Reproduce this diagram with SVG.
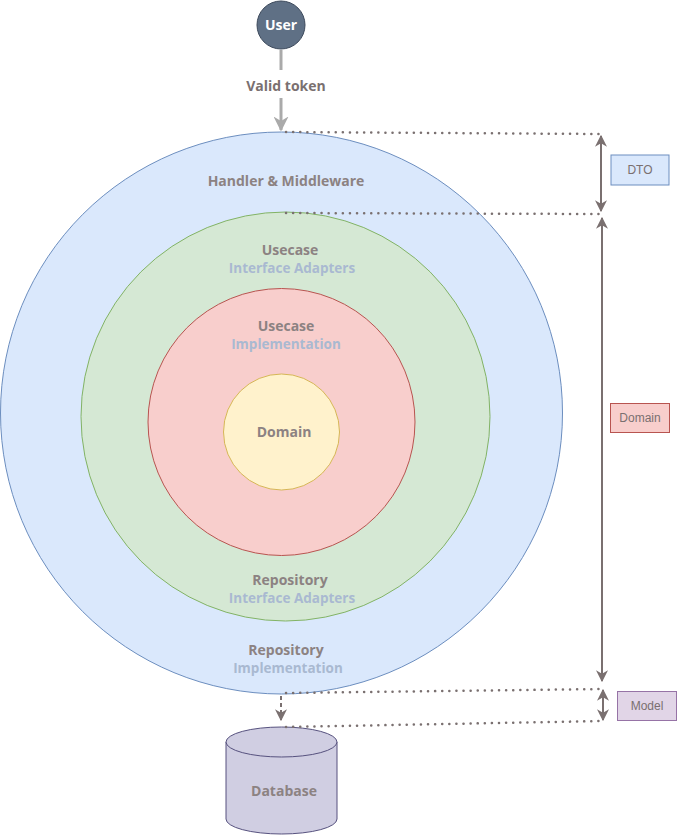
<svg xmlns="http://www.w3.org/2000/svg" width="679" height="836" viewBox="0 0 679 836">
<style>
.t{font-family:"Open Sans",sans-serif;font-weight:bold;font-size:14px;fill:#8c8282;text-anchor:middle}
.s{font-family:"Open Sans",sans-serif;font-weight:bold;font-size:13.5px;fill:#a9b9d1;text-anchor:middle}
.b{font-family:"Liberation Sans",Arial,sans-serif;font-size:12px;fill:#7a7070;text-anchor:middle}
.dot{stroke:#7a7070;stroke-width:2.5;stroke-dasharray:0.1 7;stroke-linecap:round;fill:none}
.arr{stroke:#7a7070;stroke-width:2;fill:none}
</style>
<defs>
<marker id="ah" viewBox="0 0 10 10" refX="9" refY="5" markerWidth="6" markerHeight="6" orient="auto-start-reverse" markerUnits="strokeWidth">
<path d="M0,0 L10,5 L0,10 L3,5 Z" fill="#7a7070"/>
</marker>
<marker id="ahg" viewBox="0 0 10 10" refX="9" refY="5" markerWidth="5" markerHeight="5" orient="auto" markerUnits="strokeWidth">
<path d="M0,0 L10,5 L0,10 L3,5 Z" fill="#aaaaaa"/>
</marker>
</defs>
<g id="handler">
<circle cx="281.5" cy="413" r="281" fill="#dae8fc" stroke="#6c8ebf"/>
<text class="t" x="286" y="186">Handler &amp; Middleware</text>
<text class="t" x="286" y="655">Repository</text>
<text class="s" x="288" y="673">Implementation</text>
</g>
<g id="usecase-interface">
<circle cx="285.5" cy="416.5" r="204.5" fill="#d5e8d4" stroke="#82b366"/>
<text class="t" x="290" y="255">Usecase</text>
<text class="s" x="292" y="273">Interface Adapters</text>
<text class="t" x="290" y="585">Repository</text>
<text class="s" x="292" y="603">Interface Adapters</text>
</g>
<g id="usecase-impl">
<circle cx="281.5" cy="422" r="133.5" fill="#f8cecc" stroke="#b85450"/>
<text class="t" x="286" y="331">Usecase</text>
<text class="s" x="286" y="349">Implementation</text>
</g>
<g id="domain">
<circle cx="281.5" cy="432" r="58" fill="#fff2cc" stroke="#d6b656"/>
<text class="t" x="284" y="437">Domain</text>
</g>
<g id="user">
<circle cx="281" cy="25" r="24" fill="#5f7085" stroke="#3d4a5c" stroke-width="1"/>
<text x="281" y="30" font-family="Open Sans,sans-serif" font-weight="bold" font-size="14" fill="#ffffff" text-anchor="middle">User</text>
</g>
<g id="database">
<path d="M226,742 L226,819 A55.5,15 0 0 0 337,819 L337,742" fill="#d0cee2" stroke="#56517e"/>
<ellipse cx="281.5" cy="742" rx="55.5" ry="15" fill="#d0cee2" stroke="#56517e"/>
<text class="t" x="284" y="796">Database</text>
</g>
<g id="dto">
<rect x="611" y="155" width="58" height="30" fill="#dae8fc" stroke="#6c8ebf"/>
<text class="b" x="640" y="174">DTO</text>
</g>
<g id="domain-label">
<rect x="610.5" y="403.5" width="59" height="29" fill="#f8cecc" stroke="#b85450"/>
<text class="b" x="640" y="422">Domain</text>
</g>
<g id="model">
<rect x="617.5" y="691.5" width="59" height="29" fill="#e1d5e7" stroke="#9673a6"/>
<text class="b" x="647" y="710">Model</text>
</g>
<g id="connectors">
<line x1="281" y1="50" x2="281" y2="70" stroke="#aaaaaa" stroke-width="3"/>
<text x="286" y="91" font-family="Open Sans,sans-serif" font-weight="bold" font-size="14" fill="#7a7070" text-anchor="middle">Valid token</text>
<line x1="281" y1="98" x2="281" y2="130" stroke="#aaaaaa" stroke-width="3" marker-end="url(#ahg)"/>
<line class="dot" x1="286" y1="132" x2="600" y2="134"/>
<line class="dot" x1="286" y1="213" x2="600" y2="214"/>
<line class="dot" x1="286" y1="693" x2="603" y2="689"/>
<line class="dot" x1="286" y1="727" x2="603" y2="721"/>
<line class="arr" x1="601" y1="136" x2="601" y2="211" marker-start="url(#ah)" marker-end="url(#ah)"/>
<line class="arr" x1="602" y1="218" x2="602" y2="681" marker-start="url(#ah)" marker-end="url(#ah)"/>
<line class="arr" x1="603" y1="690" x2="603" y2="720" marker-start="url(#ah)" marker-end="url(#ah)"/>
<line x1="281" y1="696" x2="281" y2="720" stroke="#7a7070" stroke-width="2" stroke-dasharray="4 3" marker-end="url(#ah)"/>
</g>
</svg>
